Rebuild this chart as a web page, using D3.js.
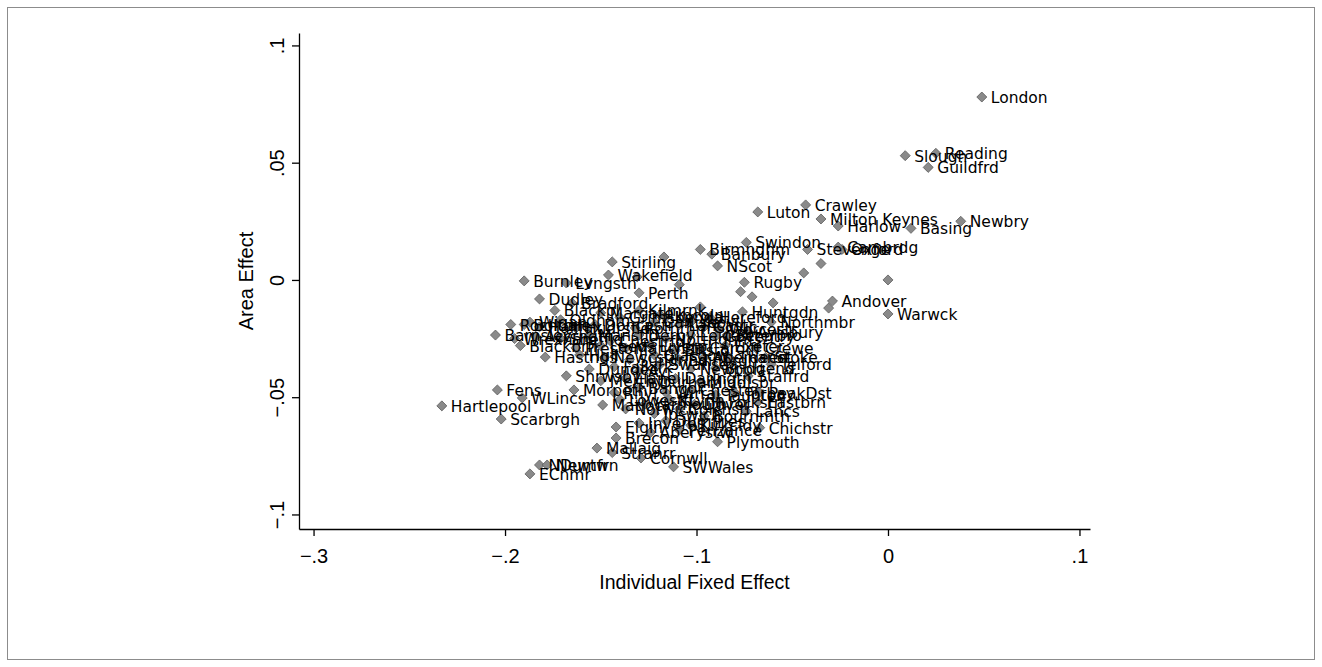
<!DOCTYPE html>
<html>
<head>
<meta charset="utf-8">
<script src="https://cdn.jsdelivr.net/npm/d3@7"></script>
<style>
  body { margin: 0; background: #fff; }
  svg { display: block; }
</style>
</head>
<body>
<div id="chart"></div>
<script>
// area labels, individual fixed effect (x) and area effect (y)
var areaNames = [
  "London", "Slough", "Reading", "Guildfrd", "Luton", "Crawley", "Milton Keynes", "Harlow", "Basing", "Newbry",
  "Swindon", "Stevenge", "Oxford", "Cambrdg", "Birmnghm", "Banbury", "NScot", "Rugby", "", "",
  "", "Andover", "", "Warwck", "Huntgdn", "Aylsbury", "Northmbr", "Crewe", "Stoke", "Telford",
  "Staffrd", "PeakDst", "Eastbrn", "Lancs", "Chichstr", "Plymouth", "SWWales", "Cornwll", "Brecon", "Elgin",
  "Mallaig", "Stranrr", "ECnmr", "NDumfr", "Newtwn", "Hartlepool", "Fens", "WLincs", "Scarbrgh", "Barnsley",
  "Burnley", "Dudley", "Stirling", "Wakefield", "Lvngstn", "Perth", "Bradford", "Hastngs", "Shrwsby", "Matlock",
  "Morpeth", "", "", "", "", "", "", "", "Peterbro", "Blackpl",
  "Margate", "Kilmrnk", "Lincoln", "Wigan", "Oldham", "Grimsby", "Kendal", "Yeovil", "Hereford", "Rochdale",
  "Bolton", "Halifax", "Hudrsfld", "Doncastr", "Rothrhm", "Carlisle", "Lancastr", "Glouc", "Worcestr", "Wrexham",
  "Accrngtn", "Sheffld", "Mansfld", "Chestrfd", "Derby", "Nottnghm", "Leicestr", "Coventry", "Blackbrn", "Preston",
  "Leeds", "Manchstr", "Liverpl", "Bristol", "Cardiff", "Exeter", "Hull", "Newcstl", "Sundrlnd", "Glasgow",
  "Edinbrgh", "Aberdeen", "Thanet", "Dundee", "Falkirk", "Ayr", "Swansea", "Newport", "Bridgend", "Merthyr",
  "Llanelli", "Durham", "Darlngtn", "Middlsbr", "Rhyl", "Bangor", "Wirral", "Chester", "Taunton", "Torbay",
  "Lowestft", "Yarmouth", "KLynn", "Dover", "Folkstn", "Norwich", "Ipswich", "Colchstr", "Bournmth", "Inverns",
  "Dumfries", "Kirkcldy", "Aberystw", "Penzance"
];

var indivEffect = [
  0.049, 0.009, 0.025, 0.021, -0.068, -0.043, -0.035, -0.026, 0.012, 0.038,
  -0.074, -0.042, -0.024, -0.026, -0.098, -0.092, -0.089, -0.075, -0.035, -0.044,
  0.000, -0.029, -0.031, 0.000, -0.076, -0.073, -0.061, -0.069, -0.064, -0.061,
  -0.073, -0.067, -0.068, -0.074, -0.067, -0.089, -0.112, -0.129, -0.142, -0.142,
  -0.152, -0.144, -0.187, -0.182, -0.178, -0.233, -0.204, -0.191, -0.202, -0.205,
  -0.190, -0.182, -0.144, -0.146, -0.168, -0.130, -0.165, -0.179, -0.168, -0.149,
  -0.164, -0.117, -0.131, -0.109, -0.098, -0.071, -0.077, -0.060, -0.084, -0.174,
  -0.150, -0.130, -0.119, -0.187, -0.171, -0.140, -0.116, -0.103, -0.093, -0.197,
  -0.190, -0.182, -0.163, -0.153, -0.132, -0.122, -0.109, -0.096, -0.088, -0.195,
  -0.184, -0.171, -0.156, -0.145, -0.130, -0.116, -0.103, -0.090, -0.192, -0.163,
  -0.150, -0.137, -0.124, -0.111, -0.098, -0.085, -0.161, -0.148, -0.135, -0.122,
  -0.109, -0.096, -0.083, -0.156, -0.143, -0.130, -0.119, -0.103, -0.090, -0.150,
  -0.137, -0.124, -0.111, -0.098, -0.143, -0.130, -0.116, -0.103, -0.090, -0.080,
  -0.140, -0.127, -0.114, -0.101, -0.088, -0.137, -0.122, -0.109, -0.096, -0.130,
  -0.116, -0.103, -0.124, -0.109
];

var areaEffect = [
  0.078, 0.053, 0.054, 0.048, 0.029, 0.032, 0.026, 0.023, 0.022, 0.025,
  0.016, 0.013, 0.013, 0.014, 0.013, 0.011, 0.006, -0.001, 0.007, 0.003,
  0.000, -0.009, -0.012, -0.0145, -0.0136, -0.022, -0.018, -0.029, -0.033, -0.036,
  -0.041, -0.048, -0.052, -0.056, -0.063, -0.069, -0.0797, -0.0759, -0.0674, -0.0627,
  -0.0717, -0.0736, -0.0827, -0.0789, -0.0789, -0.0537, -0.0469, -0.0503, -0.0593, -0.0235,
  -0.0004, -0.0081, 0.0077, 0.0021, -0.0013, -0.0055, -0.0098, -0.0329, -0.0409, -0.0533,
  -0.0469, 0.0098, 0.0013, -0.002, -0.0115, -0.0072, -0.005, -0.0098, -0.0235, -0.013,
  -0.014, -0.013, -0.015, -0.018, -0.017, -0.016, -0.016, -0.018, -0.016, -0.019,
  -0.019, -0.020, -0.0205, -0.019, -0.0205, -0.018, -0.019, -0.020, -0.021, -0.025,
  -0.024, -0.025, -0.0235, -0.026, -0.0235, -0.025, -0.0235, -0.024, -0.028, -0.029,
  -0.028, -0.029, -0.028, -0.030, -0.029, -0.028, -0.032, -0.033, -0.034, -0.032,
  -0.034, -0.033, -0.033, -0.038, -0.037, -0.039, -0.036, -0.038, -0.0375, -0.043,
  -0.042, -0.0435, -0.042, -0.0435, -0.048, -0.046, -0.048, -0.047, -0.049, -0.048,
  -0.051, -0.053, -0.051, -0.053, -0.052, -0.055, -0.057, -0.055, -0.058, -0.061,
  -0.060, -0.062, -0.065, -0.064
];

var xTicks = [-0.3, -0.2, -0.1, 0, 0.1];
var yTicks = [-0.1, -0.05, 0, 0.05, 0.1];

var width = 1322, height = 667;
var plotLeft = 299, plotRight = 1090, plotTop = 33, plotBottom = 529;

var svg = d3.select("#chart").append("svg")
    .attr("width", width)
    .attr("height", height);

// outer frame of the graph region
svg.append("rect")
    .attr("x", 7.5).attr("y", 7.5)
    .attr("width", 1307).attr("height", 652)
    .attr("fill", "none")
    .attr("stroke", "#8c8c8c")
    .attr("stroke-width", 1);

var x = d3.scaleLinear().domain([-0.3076, 0.1055]).range([plotLeft, plotRight]);
var y = d3.scaleLinear().domain([-0.1062, 0.1053]).range([plotBottom, plotTop]);

// stata style numbers: -.3, 0, .05
function stataFmt(d) {
    if (d === 0) return "0";
    return d3.format("~g")(d).replace("0.", ".");
}

var xAxis = svg.append("g")
    .attr("transform", "translate(0," + plotBottom + ")")
    .call(d3.axisBottom(x).tickValues(xTicks).tickFormat(stataFmt).tickSize(7).tickSizeOuter(0));

xAxis.selectAll("text")
    .attr("y", 34).attr("dy", 0)
    .style("font-family", "'Liberation Sans', Arial, sans-serif")
    .style("font-size", "20px")
    .attr("fill", "#000");

var yAxis = svg.append("g")
    .attr("transform", "translate(" + plotLeft + ",0)")
    .call(d3.axisLeft(y).tickValues(yTicks).tickFormat(stataFmt).tickSize(7).tickSizeOuter(0));

yAxis.selectAll("text")
    .attr("transform", "rotate(-90)")
    .attr("x", 0).attr("y", -15).attr("dy", 0)
    .attr("text-anchor", "middle")
    .style("font-family", "'Liberation Sans', Arial, sans-serif")
    .style("font-size", "20px")
    .attr("fill", "#000");

svg.selectAll(".domain, .tick line")
    .attr("stroke", "#000")
    .attr("stroke-width", 1.3);

// axis titles
svg.append("text")
    .attr("x", (plotLeft + plotRight) / 2)
    .attr("y", 589)
    .attr("text-anchor", "middle")
    .style("font-family", "'Liberation Sans', Arial, sans-serif")
    .style("font-size", "19.5px")
    .text("Individual Fixed Effect");

svg.append("text")
    .attr("transform", "translate(253," + (plotTop + plotBottom) / 2 + ") rotate(-90)")
    .attr("text-anchor", "middle")
    .style("font-family", "'Liberation Sans', Arial, sans-serif")
    .style("font-size", "20px")
    .text("Area Effect");

// points
var points = areaNames.map(function (n, i) {
    return { name: n, fx: indivEffect[i], ae: areaEffect[i] };
});

// square diamond (rotated square), like stata's marker
var diamond = {
    draw: function (context, size) {
        var r = Math.sqrt(size) * 0.62625;
        context.moveTo(0, -r);
        context.lineTo(r, 0);
        context.lineTo(0, r);
        context.lineTo(-r, 0);
        context.closePath();
    }
};

svg.append("g")
    .selectAll("path")
    .data(points)
    .join("path")
    .attr("d", d3.symbol().type(diamond).size(64))
    .attr("transform", function (d) { return "translate(" + x(d.fx) + "," + y(d.ae) + ")"; })
    .attr("fill", "#8a8a8a")
    .attr("stroke", "#5a5a5a")
    .attr("stroke-width", 0.8);

svg.append("g")
    .selectAll("text")
    .data(points.filter(function (d) { return d.name !== ""; }))
    .join("text")
    .attr("x", function (d) { return x(d.fx) + 9; })
    .attr("y", function (d) { return y(d.ae) + 6; })
    .style("font-family", "'DejaVu Sans', sans-serif")
    .style("font-size", "15.5px")
    .attr("fill", "#000")
    .text(function (d) { return d.name; });
</script>
</body>
</html>
